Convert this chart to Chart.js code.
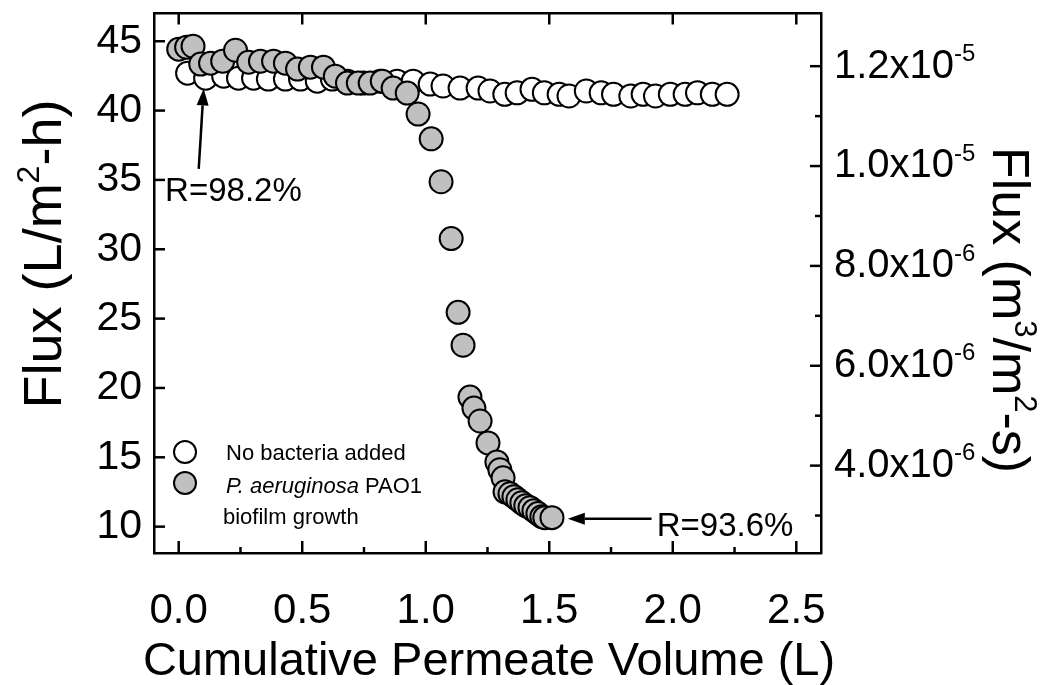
<!DOCTYPE html>
<html><head><meta charset="utf-8">
<script src="https://cdn.jsdelivr.net/npm/chart.js@4.4.1/dist/chart.umd.min.js"></script>
<style>html,body{margin:0;padding:0;background:#fff;}canvas{display:block;}</style>
</head><body>
<canvas id="c" width="1045" height="685"></canvas>
<script>
// ---- data (cumulative permeate volume in L, flux in L/m2-h) ----
const whiteX = [0.036,0.109,0.182,0.242,0.303,0.363,0.432,0.493,0.561,0.622,0.683,0.747,0.816,0.884,0.949,1.018,1.070,1.139,1.212,1.26,1.32,1.37,1.43,1.48,1.54,1.58,1.65,1.71,1.76,1.83,1.88,1.93,1.99,2.05,2.10,2.16,2.22];
const whiteY = [42.70,42.34,42.48,42.34,42.34,42.27,42.27,42.27,42.12,42.27,42.12,41.98,42.12,42.12,42.12,41.91,41.77,41.62,41.62,41.41,41.17,41.28,41.53,41.28,41.17,41.05,41.41,41.28,41.17,41.05,41.17,41.05,41.17,41.17,41.28,41.17,41.17];
const greyX = [0.000,0.032,0.058,0.089,0.129,0.178,0.230,0.283,0.331,0.384,0.432,0.481,0.533,0.586,0.634,0.683,0.727,0.775,0.824,0.868,0.925,0.969,1.022,1.062,1.103,1.131,1.151,1.179,1.195,1.220,1.252,1.288,1.300,1.313,1.321,1.341,1.357,1.373,1.389,1.405,1.422,1.438,1.454,1.470,1.482,1.511];
const greyY = [44.43,44.57,44.64,43.35,43.42,43.56,44.35,43.49,43.56,43.56,43.42,42.99,43.13,43.13,42.48,41.98,41.98,41.98,42.12,41.62,41.26,39.75,37.96,34.87,30.77,25.45,23.08,19.34,18.55,17.62,16.04,14.67,14.10,13.52,12.51,12.37,12.16,11.94,11.72,11.51,11.37,11.15,10.94,10.72,10.65,10.65];
const seriesNames = ['No bacteria added', 'P. aeruginosa', ' PAO1', 'biofilm growth'];

// ---- axes / tick labels ----
const xTicks = [0, 0.5, 1.0, 1.5, 2.0, 2.5];
const xTickLabels = ['0.0','0.5','1.0','1.5','2.0','2.5'];
const xMinor = [0.25, 0.75, 1.25, 1.75, 2.25];
const yTicks = [10, 15, 20, 25, 30, 35, 40, 45];
const y2Ticks = [4e-6, 6e-6, 8e-6, 1.0e-5, 1.2e-5];
const y2Mant = ['4.0','6.0','8.0','1.0','1.2'];
const y2Exp = ['-6','-6','-6','-5','-5'];
const y2Minor = [3e-6, 5e-6, 7e-6, 9e-6, 1.1e-5];
const X_MIN = -0.1, X_MAX = 2.6, Y_MIN = 8.1, Y_MAX = 47.0;
const LMH_TO_SI = 1e-3 / 3600;
const xTitle = 'Cumulative Permeate Volume (L)';

// annotations (data coords)
const notes = [
  {text:'R=98.2%', tx:-0.055, ty:34.35, from:[0.081,35.8], to:[0.101,41.6]},
  {text:'R=93.6%', tx:1.935, ty:10.2, from:[1.914,10.57], to:[1.575,10.57]}
];

const FAM = '"Liberation Sans", Arial, Helvetica, sans-serif';
const fnt = (size, italic) => (italic ? 'italic ' : '') + size + 'px ' + FAM;

function drawRich(ctx, parts, x, y, rot, size, align){
  ctx.save();
  ctx.translate(x, y);
  ctx.rotate(rot);
  let total = 0;
  parts.forEach(p => { ctx.font = fnt(p.sup ? Math.round(size*0.6) : size, p.italic); p.w = ctx.measureText(p.t).width; total += p.w; });
  let cx = align === 'left' ? 0 : -total/2;
  const base = size * 0.36;
  ctx.textBaseline = 'alphabetic';
  ctx.textAlign = 'left';
  ctx.fillStyle = '#000';
  parts.forEach(p => {
    ctx.font = fnt(p.sup ? Math.round(size*0.6) : size, p.italic);
    ctx.fillText(p.t, cx, p.sup ? base - size*0.42 : base);
    cx += p.w;
  });
  ctx.restore();
}

function arrow(ctx, x0, y0, x1, y1, hl, hw){
  const a = Math.atan2(y1-y0, x1-x0);
  const bx = x1 - hl*Math.cos(a), by = y1 - hl*Math.sin(a);
  ctx.beginPath(); ctx.moveTo(x0,y0); ctx.lineTo(bx,by); ctx.stroke();
  ctx.beginPath();
  ctx.moveTo(x1,y1);
  ctx.lineTo(bx + hw*Math.sin(a), by - hw*Math.cos(a));
  ctx.lineTo(bx - hw*Math.sin(a), by + hw*Math.cos(a));
  ctx.closePath(); ctx.fill();
}

const deco = {
  id: 'deco',
  afterDraw(chart){
    const ctx = chart.ctx, ca = chart.chartArea;
    const x = chart.scales.x, y = chart.scales.y, y2 = chart.scales.y2;
    ctx.save();
    ctx.strokeStyle = '#000'; ctx.fillStyle = '#000'; ctx.lineWidth = 2.5; ctx.lineCap = 'butt';
    const ln = (a,b,c,d) => { ctx.beginPath(); ctx.moveTo(a,b); ctx.lineTo(c,d); ctx.stroke(); };
    yTicks.forEach(v => { const p = y.getPixelForValue(v); ln(ca.left, p, ca.left+11, p); });
    y2Ticks.forEach(v => { const p = y2.getPixelForValue(v); ln(ca.right, p, ca.right-11, p); });
    y2Minor.forEach(v => { const p = y2.getPixelForValue(v); ln(ca.right, p, ca.right-6, p); });
    xTicks.forEach(v => { const p = x.getPixelForValue(v); ln(p, ca.bottom, p, ca.bottom-12); ln(p, ca.top, p, ca.top+11); });
    xMinor.forEach(v => { const p = x.getPixelForValue(v); ln(p, ca.bottom, p, ca.bottom-6); });

    // right tick labels
    y2Ticks.forEach((v,i) => {
      const p = y2.getPixelForValue(v);
      drawRich(ctx, [{t: y2Mant[i] + 'x10'}, {t: y2Exp[i], sup: true}], ca.right + 13, p - 3, 0, 40, 'left');
    });
    // axis titles
    drawRich(ctx, [{t: xTitle}], 489, 658, 0, 47);
    drawRich(ctx, [{t:'Flux (L/m'},{t:'2',sup:true},{t:'-h)'}], 42, 254, -Math.PI/2, 54);
    drawRich(ctx, [{t:'Flux (m'},{t:'3',sup:true},{t:'/m'},{t:'2',sup:true},{t:'-s)'}], 1012, 310, Math.PI/2, 52);

    // legend
    const lx = ca.left + 31, ly1 = ca.bottom - 101, ly2 = ca.bottom - 70, ly3 = ca.bottom - 37;
    ctx.lineWidth = 2;
    [[ly1,'#ffffff'],[ly2,'#c0c0c0']].forEach(([yy,col]) => {
      ctx.beginPath(); ctx.arc(lx, yy, 11, 0, Math.PI*2); ctx.fillStyle = col; ctx.fill(); ctx.stroke();
    });
    ctx.fillStyle = '#000';
    const tx = ca.left + 72;
    drawRich(ctx, [{t: seriesNames[0]}], tx, ly1, 0, 22, 'left');
    drawRich(ctx, [{t: seriesNames[1], italic:true},{t: seriesNames[2]}], tx, ly2 + 2, 0, 22, 'left');
    drawRich(ctx, [{t: seriesNames[3]}], tx - 3, ly3, 0, 22, 'left');

    // annotations
    ctx.lineWidth = 2.5; ctx.fillStyle = '#000';
    notes.forEach(n => {
      arrow(ctx, x.getPixelForValue(n.from[0]), y.getPixelForValue(n.from[1]), x.getPixelForValue(n.to[0]), y.getPixelForValue(n.to[1]), 17, 6);
      drawRich(ctx, [{t:n.text}], x.getPixelForValue(n.tx), y.getPixelForValue(n.ty), 0, 33, 'left');
    });
    ctx.restore();
  }
};

const toPts = (xs, ys) => xs.map((v,i) => ({x: v, y: ys[i]}));
const noPad = s => { s.paddingLeft = 0; s.paddingRight = 0; s.paddingTop = 0; s.paddingBottom = 0; };

new Chart(document.getElementById('c'), {
  type: 'scatter',
  data: {
    datasets: [
      {label: seriesNames[0], data: toPts(whiteX, whiteY), backgroundColor: '#ffffff', borderColor: '#000', pointRadius: 11.5, pointBorderWidth: 2, order: 2, clip: false},
      {label: 'P. aeruginosa PAO1 biofilm growth', data: toPts(greyX, greyY), backgroundColor: '#c0c0c0', borderColor: '#000', pointRadius: 11.5, pointBorderWidth: 2, order: 1, clip: false}
    ]
  },
  options: {
    responsive: false, animation: false, devicePixelRatio: 1, events: [],
    layout: {padding: 0},
    plugins: {legend: {display: false}, tooltip: {enabled: false}},
    scales: {
      x: {
        type: 'linear', position: 'bottom', min: X_MIN, max: X_MAX,
        grid: {display: false, drawTicks: false},
        border: {display: true, color: '#000', width: 2.5},
        afterBuildTicks: s => { s.ticks = xTicks.map(v => ({value: v})); },
        afterFit: s => { s.height = 132; noPad(s); },
        ticks: {color: '#000', padding: 33, maxRotation: 0, autoSkip: false,
          font: {family: FAM, size: 42},
          callback: v => { const i = xTicks.findIndex(t => Math.abs(t - v) < 1e-9); return i >= 0 ? xTickLabels[i] : ''; }},
        title: {display: false}
      },
      xTop: {
        type: 'linear', position: 'top', min: X_MIN, max: X_MAX,
        grid: {display: false, drawTicks: false},
        border: {display: true, color: '#000', width: 2.5},
        ticks: {display: false},
        afterFit: s => { s.height = 12; noPad(s); }
      },
      y: {
        type: 'linear', position: 'left', min: Y_MIN, max: Y_MAX,
        grid: {display: false, drawTicks: false},
        border: {display: true, color: '#000', width: 2.5},
        afterBuildTicks: s => { s.ticks = yTicks.map(v => ({value: v})); },
        afterFit: s => { s.width = 154; noPad(s); },
        ticks: {color: '#000', padding: 12, font: {family: FAM, size: 41}, callback: v => String(v)}
      },
      y2: {
        type: 'linear', position: 'right', min: Y_MIN * LMH_TO_SI, max: Y_MAX * LMH_TO_SI,
        grid: {display: false, drawTicks: false},
        border: {display: true, color: '#000', width: 2.5},
        ticks: {display: false},
        afterFit: s => { s.width = 224; noPad(s); }
      }
    }
  },
  plugins: [deco]
});
</script>
</body></html>
